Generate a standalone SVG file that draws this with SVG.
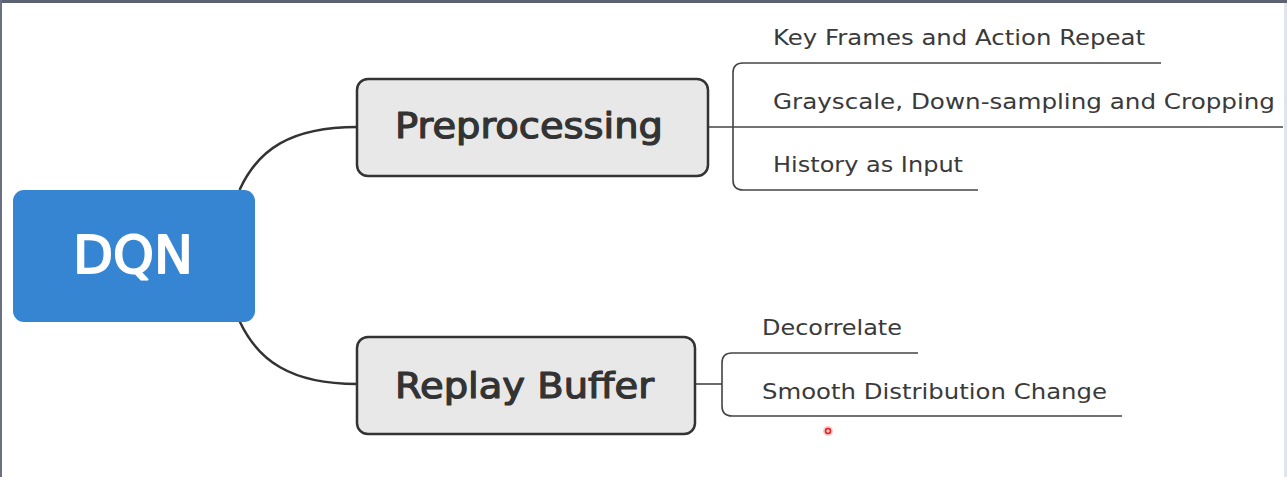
<svg xmlns="http://www.w3.org/2000/svg" width="1287" height="477" viewBox="0 0 1287 477">
<style>
.conn{fill:none;stroke:#333;stroke-width:2.5;stroke-linecap:round}
.sub{fill:none;stroke:#444;stroke-width:1.6}
.box{fill:#e8e8e8;stroke:#333;stroke-width:2.5}
.t1{font-family:"DejaVu Sans","Open Sans",sans-serif;font-size:35px;fill:#333;stroke:#333;stroke-width:1.2;stroke-linejoin:round}
.t2{font-family:"DejaVu Sans","Open Sans",sans-serif;font-size:21px;fill:#3a3a3a}
</style>
<rect width="1287" height="477" fill="#ffffff"/>
<rect x="0" y="0" width="1287" height="3" fill="#5b6372"/>
<rect x="0" y="0" width="2" height="477" fill="#6a7080"/>
<rect x="1284" y="3" width="3" height="474" fill="#dfe5ec"/>
<g id="connectors">
<path class="conn" d="M240 189 C258 150 290 127 357 127"/>
<path class="conn" d="M240 322 C258 360 290 384 357 384"/>
<path class="sub" d="M708 127 H1283"/>
<path class="sub" d="M1161 63 H743 Q733 63 733 73 V180 Q733 190 743 190 H978"/>
<path class="sub" d="M695 384 H722"/>
<path class="sub" d="M918 353 H732 Q722 353 722 363 V406 Q722 416 732 416 H1122"/>
</g>
<g id="dqn">
<rect x="13" y="190" width="242" height="132" rx="11" fill="#3585d3"/>
<text x="133" y="273" text-anchor="middle" font-family="DejaVu Sans,Open Sans,sans-serif" font-size="52" fill="#ffffff" stroke="#ffffff" stroke-width="2" stroke-linejoin="round" textLength="120" lengthAdjust="spacingAndGlyphs">DQN</text>
</g>
<g id="preprocessing">
<rect class="box" x="357" y="79" width="351" height="97" rx="11"/>
<text class="t1" x="395" y="138" textLength="268" lengthAdjust="spacingAndGlyphs">Preprocessing</text>
</g>
<g id="replay">
<rect class="box" x="357" y="337" width="338" height="97" rx="11"/>
<text class="t1" x="395" y="398" textLength="259" lengthAdjust="spacingAndGlyphs">Replay Buffer</text>
</g>
<g id="keyframes"><text class="t2" x="773" y="45" textLength="372" lengthAdjust="spacingAndGlyphs">Key Frames and Action Repeat</text></g>
<g id="grayscale"><text class="t2" x="773" y="109" textLength="502" lengthAdjust="spacingAndGlyphs">Grayscale, Down-sampling and Cropping</text></g>
<g id="history"><text class="t2" x="773" y="172" textLength="190" lengthAdjust="spacingAndGlyphs">History as Input</text></g>
<g id="decorrelate"><text class="t2" x="762" y="335" textLength="140" lengthAdjust="spacingAndGlyphs">Decorrelate</text></g>
<g id="smooth"><text class="t2" x="762" y="399" textLength="345" lengthAdjust="spacingAndGlyphs">Smooth Distribution Change</text></g>
<circle cx="828" cy="431" r="5" fill="#f6c9c9"/>
<circle cx="828" cy="431" r="2.5" fill="none" stroke="#e02020" stroke-width="1.5"/>
</svg>
